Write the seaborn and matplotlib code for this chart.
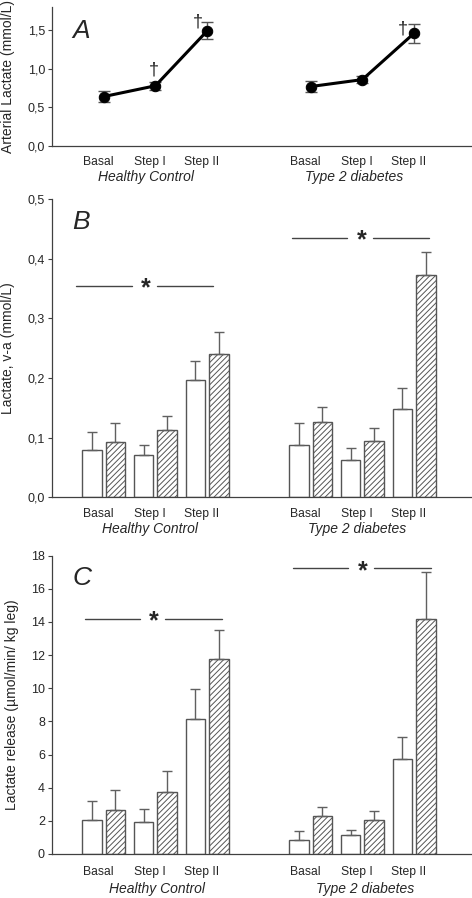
import numpy as np
import pandas as pd
import matplotlib
matplotlib.use('Agg')
import matplotlib.pyplot as plt
import seaborn as sns

steps = ['Basal', 'Step I', 'Step II']
groups = ['Healthy Control', 'Type 2 diabetes']
pos = [1, 2, 3, 5, 6, 7]

# panel A - arterial lactate
art_mean = [0.64, 0.78, 1.49, 0.77, 0.86, 1.46]
art_err = [0.07, 0.05, 0.11, 0.075, 0.05, 0.125]
dag_x = [1.97, 2.82, 6.78]
dag_y = [0.98, 1.60, 1.51]

# panel B - v-a difference
va_open = [0.079, 0.071, 0.196, 0.087, 0.062, 0.148]
va_open_err = [0.030, 0.016, 0.032, 0.037, 0.020, 0.036]
va_hatch = [0.093, 0.112, 0.241, 0.126, 0.094, 0.372]
va_hatch_err = [0.031, 0.024, 0.036, 0.025, 0.023, 0.040]
va_sig_y = [0.355, 0.435]
va_sig_span = [(0.46, 3.11), (4.64, 7.29)]
va_star_x = [1.82, 5.98]

# panel C - lactate release
rel_open = [2.05, 1.95, 8.15, 0.85, 1.13, 5.73]
rel_open_err = [1.15, 0.75, 1.83, 0.56, 0.34, 1.35]
rel_hatch = [2.65, 3.72, 11.75, 2.27, 2.03, 14.16]
rel_hatch_err = [1.19, 1.27, 1.75, 0.55, 0.58, 2.84]
rel_sig_y = [14.2, 17.24]
rel_sig_span = [(0.64, 3.29), (4.66, 7.33)]
rel_star_x = [1.97, 6.0]

sns.set_style('ticks')
plt.rcParams['font.family'] = ['Liberation Sans', 'DejaVu Sans']
plt.rcParams['hatch.color'] = '#333333'
plt.rcParams['hatch.linewidth'] = 0.7

fig = plt.figure(figsize=(4.72, 8.98), dpi=100)
axA = fig.add_axes([0.110, 0.8374, 0.890, 0.1548])
axB = fig.add_axes([0.110, 0.4462, 0.890, 0.3322])
axC = fig.add_axes([0.110, 0.0490, 0.890, 0.3322])

axis_col = '#404040'


def style_axis(ax, ylim, yticks, yticklabels, ylabel, letter, letter_y,
               grp_x, lab_x, tick_pad, grp_off):
    ax.set_xlim(0, 8.12)
    ax.set_ylim(*ylim)
    ax.set_yticks(yticks)
    ax.set_yticklabels(yticklabels, fontsize=9)
    ax.set_xticks([p - 0.1 for p in pos])
    ax.set_xticklabels(steps * 2, fontsize=8.7)
    ax.tick_params(axis='x', length=0, pad=tick_pad)
    ax.tick_params(axis='y', length=3, width=0.8, color=axis_col, pad=2)
    for s in ['top', 'right']:
        ax.spines[s].set_visible(False)
    for s in ['left', 'bottom']:
        ax.spines[s].set_color(axis_col)
        ax.spines[s].set_linewidth(0.9)
    ax.set_xlabel('')
    ax.set_ylabel(ylabel, fontsize=10)
    ax.yaxis.set_label_coords(lab_x, 0.5)
    ax.text(0.048, letter_y, letter, transform=ax.transAxes, fontsize=19,
            style='italic', ha='left', va='center')
    for gx, g in zip(grp_x, groups):
        ax.annotate(g, xy=(gx, 0), xycoords=('data', 'axes fraction'),
                    xytext=(0, -grp_off), textcoords='offset pixels',
                    ha='center', va='center', fontsize=10, style='italic')


# ---- A ----
dfA = pd.DataFrame({'pos': pos, 'val': art_mean,
                    'group': [groups[0]] * 3 + [groups[1]] * 3})
sns.lineplot(data=dfA, x='pos', y='val', units='group', estimator=None,
             color='black', lw=2.2, marker='o', markersize=7.5,
             markeredgecolor='black', ax=axA)
axA.errorbar(dfA['pos'], dfA['val'], yerr=art_err, fmt='none',
             ecolor='#555555', elinewidth=1, capsize=4.2, capthick=1, zorder=1)
for x, y in zip(dag_x, dag_y):
    axA.text(x, y, '\u2020', fontsize=13, ha='center', va='center')
style_axis(axA, (0, 1.8), [0, 0.5, 1.0, 1.5], ['0,0', '0,5', '1,0', '1,5'],
           'Arterial Lactate (mmol/L)', 'A', 0.83, [1.82, 5.84], -0.087, 7, 31)


def bar_panel(ax, vopen, eopen, vhatch, ehatch, sig_y, sig_span, star_x):
    df = pd.DataFrame({'pos': pos * 2, 'val': vopen + vhatch,
                       'cond': ['open'] * 6 + ['hatched'] * 6})
    sns.barplot(data=df, x='pos', y='val', hue='cond', native_scale=True,
                palette=['white', 'white'], width=0.908, gap=0.17,
                edgecolor='#555555', linewidth=1, errorbar=None, legend=False,
                ax=ax)
    for cont, errs, hatch in zip(ax.containers, [eopen, ehatch], [None, '//////']):
        for bar, e in zip(cont, errs):
            if hatch:
                bar.set_hatch(hatch)
            bx = bar.get_x() + bar.get_width() / 2
            ax.errorbar(bx, bar.get_height(), yerr=[[0], [e]], fmt='none',
                        ecolor='#606060', elinewidth=1, capsize=3.3,
                        capthick=1, zorder=1)
    for y, (x0, x1), sx in zip(sig_y, sig_span, star_x):
        ax.plot([x0, sx - 0.27], [y, y], color='#444444', lw=1)
        ax.plot([sx + 0.22, x1], [y, y], color='#444444', lw=1)
        ax.annotate('*', xy=(sx, y), xytext=(0, -3), textcoords='offset pixels',
                    fontsize=18, ha='center', va='center', fontweight='bold')


# ---- B ----
bar_panel(axB, va_open, va_open_err, va_hatch, va_hatch_err,
          va_sig_y, va_sig_span, va_star_x)
style_axis(axB, (0, 0.5), [0, 0.1, 0.2, 0.3, 0.4, 0.5],
           ['0,0', '0,1', '0,2', '0,3', '0,4', '0,5'],
           'Lactate, v-a (mmol/L)', 'B', 0.923, [1.9, 5.9], -0.087, 8, 32)

# ---- C ----
bar_panel(axC, rel_open, rel_open_err, rel_hatch, rel_hatch_err,
          rel_sig_y, rel_sig_span, rel_star_x)
style_axis(axC, (0, 18), list(range(0, 19, 2)),
           [str(v) for v in range(0, 19, 2)],
           'Lactate release (\u00b5mol/min/ kg leg)', 'C', 0.926, [2.03, 6.05],
           -0.079, 9, 35)

fig.savefig('out.png', dpi=100)
